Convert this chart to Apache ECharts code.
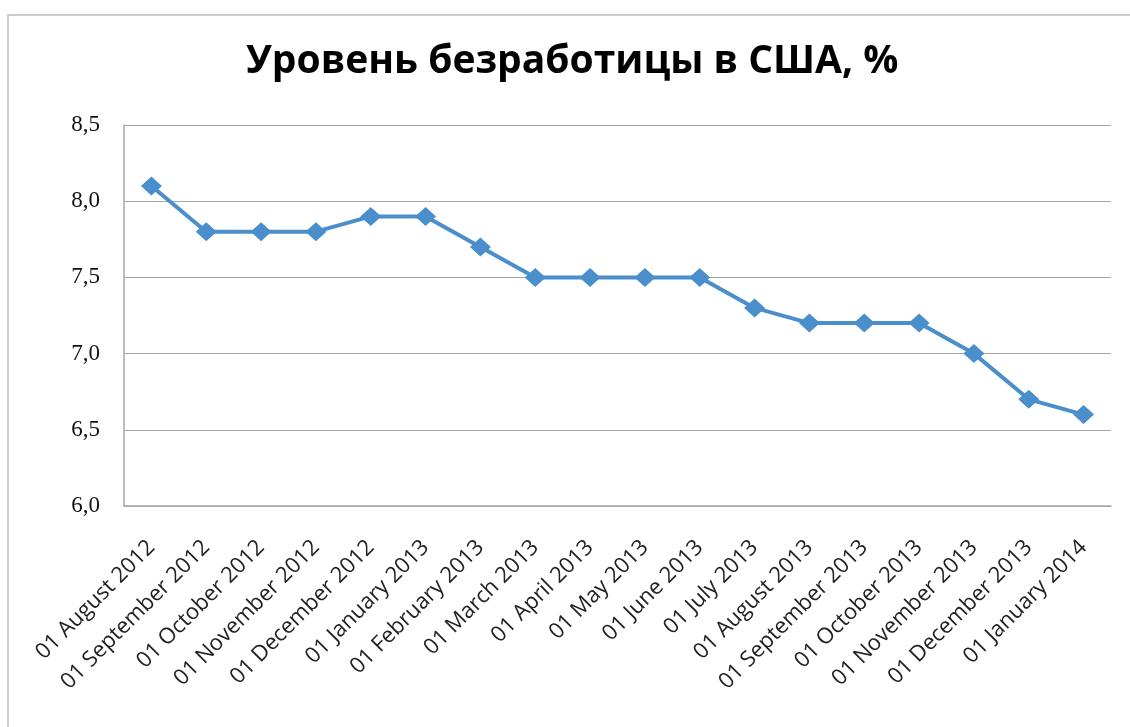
<!DOCTYPE html>
<html><head><meta charset="utf-8">
<script src="https://cdn.jsdelivr.net/npm/echarts@6/dist/echarts.min.js"></script>
<style>html,body{margin:0;padding:0;background:#fff}#c{width:1130px;height:727px}</style>
</head><body><div id="c"></div>
<script>
const categories = ["01 August 2012","01 September 2012","01 October 2012","01 November 2012","01 December 2012","01 January 2013","01 February 2013","01 March 2013","01 April 2013","01 May 2013","01 June 2013","01 July 2013","01 August 2013","01 September 2013","01 October 2013","01 November 2013","01 December 2013","01 January 2014"];
const unemployment = [8.1,7.8,7.8,7.8,7.9,7.9,7.7,7.5,7.5,7.5,7.5,7.3,7.2,7.2,7.2,7.0,6.7,6.6];
const yTicks = [6.0,6.5,7.0,7.5,8.0,8.5];

const chart = echarts.init(document.getElementById('c'));
chart.setOption({
  backgroundColor:'#fff',
  animation:false,
  graphic:[{type:'rect',shape:{x:8,y:15,width:1140,height:740},style:{fill:'none',stroke:'#bdbdbd',lineWidth:1.5},silent:true}],
  title:{text:'Уровень безработицы в США, %',left:241,top:37,textStyle:{fontFamily:'Open Sans',fontWeight:'bold',fontSize:39,color:'#000'}},
  grid:{left:124,right:19,top:125,bottom:221,containLabel:false},
  xAxis:{type:'category',data:categories,boundaryGap:true,
    axisLine:{show:true,lineStyle:{color:'#a6a6a6',width:1.5}},
    axisTick:{show:false},
    axisLabel:{rotate:45,interval:0,margin:38,fontFamily:'Open Sans',fontSize:22,color:'#222'}},
  yAxis:{type:'value',min:6,max:8.5,interval:0.5,
    axisLine:{show:true,lineStyle:{color:'#a6a6a6',width:1.5}},
    axisTick:{show:false},
    splitLine:{lineStyle:{color:'#a6a6a6',width:1.2}},
    axisLabel:{margin:24,fontFamily:'Liberation Serif',fontSize:23,color:'#111',formatter:v=>v.toFixed(1).replace('.',',')}},
  series:[{type:'line',data:unemployment,symbol:'diamond',symbolSize:[21,19],
    lineStyle:{color:'#4a8fcb',width:4},itemStyle:{color:'#4a8fcb'}}]
});
</script></body></html>
